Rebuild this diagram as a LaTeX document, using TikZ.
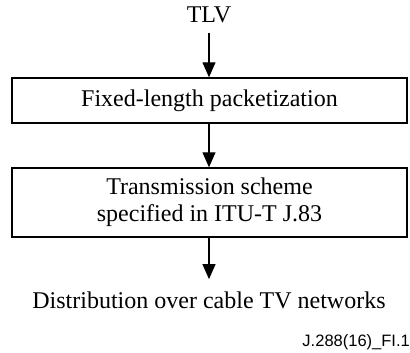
\documentclass[tikz,border=0pt]{standalone}
\usepackage{fontspec}
\setmainfont{Liberation Serif}
\newfontfamily\labelfont{Liberation Sans}
\usetikzlibrary{arrows.meta}
\begin{document}
\begin{tikzpicture}[x=1pt,y=1pt,
  every node/.style={font=\fontsize{24}{27}\selectfont},
  procbox/.style={draw, line width=1.4pt, minimum width=395pt, align=center, inner sep=0pt},
  flow/.style={line width=1.1pt, -{Triangle[length=15pt,width=13pt]}},
  figlabel/.style={font=\labelfont\fontsize{16.5}{18}\selectfont, anchor=base east, inner sep=0pt}]
\useasboundingbox (0,0) rectangle (410,-353);
\node[anchor=base, inner sep=0pt] (tlv) at (209,-23) {TLV};
\node[procbox, minimum height=45pt] (pack) at (209.5,-100.5) {Fixed-length packetization};
\node[procbox, minimum height=69pt] (trans) at (209.5,-202.5) {Transmission scheme\\specified in ITU-T J.83};
\node[anchor=base, inner sep=0pt] (dist) at (209,-308) {Distribution over cable TV networks};
\node[figlabel] (lab) at (410,-346) {J.288(16)\_FI.1};
\draw[flow, shorten <=9pt] (tlv.south) -- (pack.north -| tlv.south);
\draw[flow] (pack.south -| tlv.south) -- (trans.north -| tlv.south);
\draw[flow, shorten >=12pt] (trans.south -| tlv.south) -- (dist.north -| tlv.south);
\end{tikzpicture}
\end{document}
